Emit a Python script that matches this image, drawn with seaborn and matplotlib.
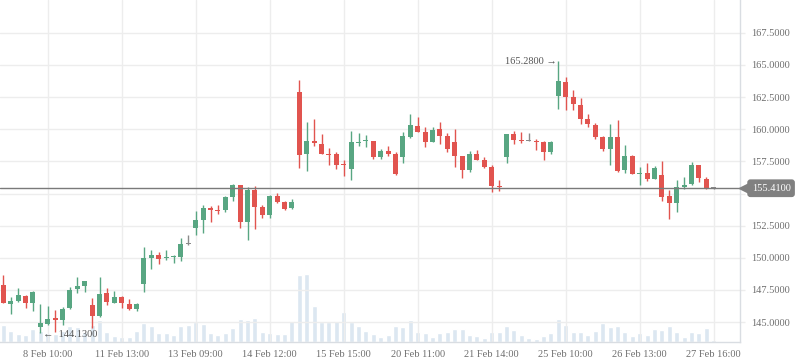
"""
Hourly candlestick chart with volume, 8 Feb - 27 Feb
"""

import numpy as np
import pandas as pd
import matplotlib
matplotlib.use("Agg")
import matplotlib.pyplot as plt
import matplotlib.transforms as mtransforms
import seaborn as sns

# OHLC values, one per hourly bar
opens = [147.88, 146.43, 146.64, 147.02, 146.50, 144.63, 144.87, 145.31, 145.16, 146.07,
         147.59, 147.83, 146.32, 145.49, 147.26, 146.50, 146.97, 146.43, 146.04, 147.96,
         150.01, 150.22, 149.98, 150.09, 150.09, 151.05, 152.35, 152.94, 153.88, 153.72,
         153.72, 154.76, 155.67, 152.81, 155.28, 153.96, 153.36, 154.81, 154.32, 153.90,
         162.91, 158.11, 159.10, 158.86, 158.08, 158.08, 157.23, 156.87, 158.89, 159.05,
         159.10, 157.80, 158.32, 158.08, 157.80, 159.38, 160.26, 159.80, 158.97, 160.03,
         159.49, 159.02, 157.93, 156.81, 158.08, 157.62, 157.07, 155.61, 157.87, 159.64,
         159.15, 159.10, 159.12, 158.97, 158.19, 162.55, 163.67, 162.47, 161.90, 160.81,
         160.34, 159.36, 158.47, 159.41, 156.79, 157.93, 156.53, 156.60, 156.14, 156.45,
         154.81, 154.29, 155.51, 155.75, 157.23, 156.16, 155.41]
highs = [148.66, 146.92, 147.62, 147.10, 147.38, 146.40, 146.25, 145.93, 146.19, 147.70,
         148.53, 148.22, 146.89, 148.53, 147.62, 147.41, 147.00, 146.77, 146.50, 150.82,
         150.61, 150.45, 150.61, 150.22, 151.57, 151.78, 153.65, 154.11, 154.06, 154.11,
         154.84, 155.75, 155.67, 155.54, 155.59, 154.11, 154.89, 155.07, 154.42, 154.55,
         163.85, 160.58, 160.79, 159.64, 158.53, 158.19, 157.62, 159.88, 159.74, 159.56,
         159.12, 158.45, 158.71, 158.19, 159.82, 161.20, 160.98, 160.17, 160.19, 160.58,
         159.70, 160.03, 157.95, 158.32, 158.40, 157.83, 157.23, 156.06, 159.64, 159.90,
         159.80, 159.70, 159.25, 159.10, 159.12, 165.28, 164.10, 163.07, 162.42, 161.15,
         160.48, 159.49, 160.42, 160.73, 158.79, 158.01, 157.10, 157.38, 157.15, 157.56,
         155.28, 156.06, 156.27, 157.44, 157.23, 156.32, 155.45]
lows = [146.46, 145.62, 146.60, 146.11, 145.86, 144.13, 144.80, 144.20, 144.74, 145.99,
        147.28, 147.36, 144.51, 145.37, 146.32, 146.45, 146.07, 145.93, 145.88, 147.36,
        149.15, 149.54, 149.83, 149.62, 149.77, 151.00, 151.78, 151.91, 152.82, 153.39,
        153.59, 154.45, 152.35, 151.39, 152.24, 153.12, 153.12, 154.24, 153.72, 153.83,
        157.02, 156.78, 158.71, 158.11, 157.23, 156.92, 156.37, 156.06, 158.71, 158.58,
        157.72, 157.72, 157.93, 156.45, 157.34, 159.30, 159.82, 158.58, 158.97, 158.86,
        158.19, 157.09, 156.24, 156.66, 157.57, 156.97, 155.15, 155.22, 157.36, 158.84,
        158.92, 159.10, 158.40, 157.62, 158.08, 161.59, 161.51, 161.46, 160.37, 160.21,
        159.25, 158.34, 157.23, 156.71, 156.58, 156.55, 155.67, 156.01, 156.14, 154.42,
        153.02, 153.59, 155.33, 155.67, 155.93, 155.33, 155.38]
closes = [146.46, 146.64, 147.10, 146.50, 147.34, 144.95, 145.21, 145.18, 146.01, 147.49,
          147.80, 148.19, 145.49, 147.18, 146.58, 146.95, 146.50, 146.04, 146.43, 149.98,
          150.22, 149.91, 150.09, 150.17, 151.07, 151.05, 152.94, 153.90, 153.75, 153.65,
          154.76, 155.65, 152.81, 155.28, 153.98, 153.36, 154.81, 154.37, 153.83, 154.32,
          158.01, 159.10, 158.89, 158.11, 158.03, 157.25, 157.18, 159.02, 158.97, 159.12,
          157.80, 158.32, 158.06, 156.53, 159.44, 160.34, 159.82, 158.97, 159.95, 159.51,
          158.45, 157.95, 156.81, 158.06, 157.62, 157.07, 155.61, 155.51, 159.64, 159.17,
          159.10, 159.10, 159.02, 158.19, 159.02, 163.77, 162.47, 161.95, 160.81, 160.37,
          159.36, 158.45, 159.41, 156.76, 157.93, 156.55, 156.60, 156.14, 157.02, 154.76,
          154.29, 155.51, 155.67, 157.23, 156.19, 155.46, 155.41]
volumes = [17, 11, 8, 7, 13, 11, 9, 8, 11, 16,
           15, 10, 17, 22, 10, 6, 5, 5, 11, 19,
           16, 9, 9, 7, 16, 17, 20, 18, 9, 7,
           9, 14, 23, 22, 24, 10, 9, 8, 8, 21,
           67, 68, 36, 20, 20, 21, 30, 20, 16, 11,
           8, 5, 7, 16, 15, 22, 10, 9, 5, 9,
           10, 13, 13, 7, 6, 4, 10, 10, 16, 12,
           7, 4, 3, 6, 9, 23, 17, 10, 10, 7,
           11, 19, 15, 16, 10, 6, 9, 7, 13, 12,
           16, 10, 5, 10, 9, 14, 2]
tick_labels = ["8 Feb 10:00", "11 Feb 13:00", "13 Feb 09:00", "14 Feb 12:00", "15 Feb 15:00",
               "20 Feb 11:00", "21 Feb 14:00", "25 Feb 10:00", "26 Feb 13:00", "27 Feb 16:00"]
last_price = 155.41

GREEN = '#58a682'
RED = '#e1544f'
GRAY = '#8a8a8a'
VOL = '#dce7f1'
TXT = '#6e6e6e'
GRID = '#ededed'

sns.set_theme(style="white")
plt.rcParams['font.family'] = ['Liberation Serif', 'DejaVu Sans']

df = pd.DataFrame({'open': opens, 'high': highs, 'low': lows,
                   'close': closes, 'volume': np.array(volumes) * 1000})
df['idx'] = np.arange(len(df))
df['color'] = np.where(df.close > df.open, GREEN,
                       np.where(df.close < df.open, RED, GRAY))
df['body_lo'] = df[['open', 'close']].min(axis=1)
df['body_h'] = (df.close - df.open).abs().clip(lower=0.08)

fig = plt.figure(figsize=(7.98, 3.63), dpi=100)
ax = fig.add_axes([0, 21 / 363, 740 / 798, 342 / 363])
axv = ax.twinx()
ax.set_zorder(axv.get_zorder() + 1)
ax.patch.set_visible(False)

# volume behind the candles
sns.barplot(data=df, x='idx', y='volume', native_scale=True, color=VOL,
            saturation=1, width=0.68, errorbar=None, ax=axv)
axv.set_ylim(0, 342000)
axv.set_yticks([])
axv.set_xlabel('')
axv.set_ylabel('')
for s in axv.spines.values():
    s.set_visible(False)

# candles
ax.vlines(df.idx, df.low, df.high, colors=df.color, lw=1.0, zorder=3)
ax.bar(df.idx, df.body_h, bottom=df.body_lo, width=0.68, color=df.color,
       linewidth=0, zorder=4)

ax.set_xlim(-0.45, 99.55)
ax.set_ylim(143.45, 170.05)

yt = np.arange(145, 170, 2.5)
ax.set_yticks(yt)
ax.set_yticklabels(['' if abs(v - 155) < 1e-6 else f'{v:.4f}' for v in yt])
ax.yaxis.tick_right()
ax.set_xticks(np.arange(6, len(df), 10))
ax.set_xticklabels(tick_labels)
ax.tick_params(axis='both', colors=GRID, labelcolor=TXT, labelsize=7.5,
               length=3.6, width=1)
ax.tick_params(axis='x', pad=2)
ax.tick_params(axis='y', pad=4.3)
ax.grid(True, color=GRID, lw=1)
ax.set_axisbelow(True)
for side in ['top', 'left']:
    ax.spines[side].set_visible(False)
for side in ['right', 'bottom']:
    ax.spines[side].set_color('#d9dde2')
    ax.spines[side].set_linewidth(1)

# last price line and tag
ax.axhline(last_price, color='#7a7a7a', lw=1, zorder=5)
trans = mtransforms.blended_transform_factory(ax.transAxes, ax.transData)
ax.plot([1.007], [last_price], marker='<', ms=8.5, color='#808080',
        transform=trans, clip_on=False, zorder=6)
ax.text(1.042, last_price, f'{last_price:.4f}', transform=trans, ha='center',
        va='center', color='white', fontsize=7.5, clip_on=False, zorder=7,
        bbox=dict(boxstyle='round,pad=0.42,rounding_size=0.3', fc='#808080', ec='none'))

# high / low markers
hi = int(df.high.idxmax())
lo = int(df.low.idxmin())
ax.text(hi - 0.2, df.high[hi], f'{df.high[hi]:.4f} →', ha='right', va='center',
        color='#555555', fontsize=7.5, zorder=6)
ax.text(lo + 0.35, df.low[lo] - 0.12, f'←  {df.low[lo]:.4f}', ha='left', va='center',
        color='#555555', fontsize=7.5, zorder=6)

plt.savefig('out.png', dpi=100)
